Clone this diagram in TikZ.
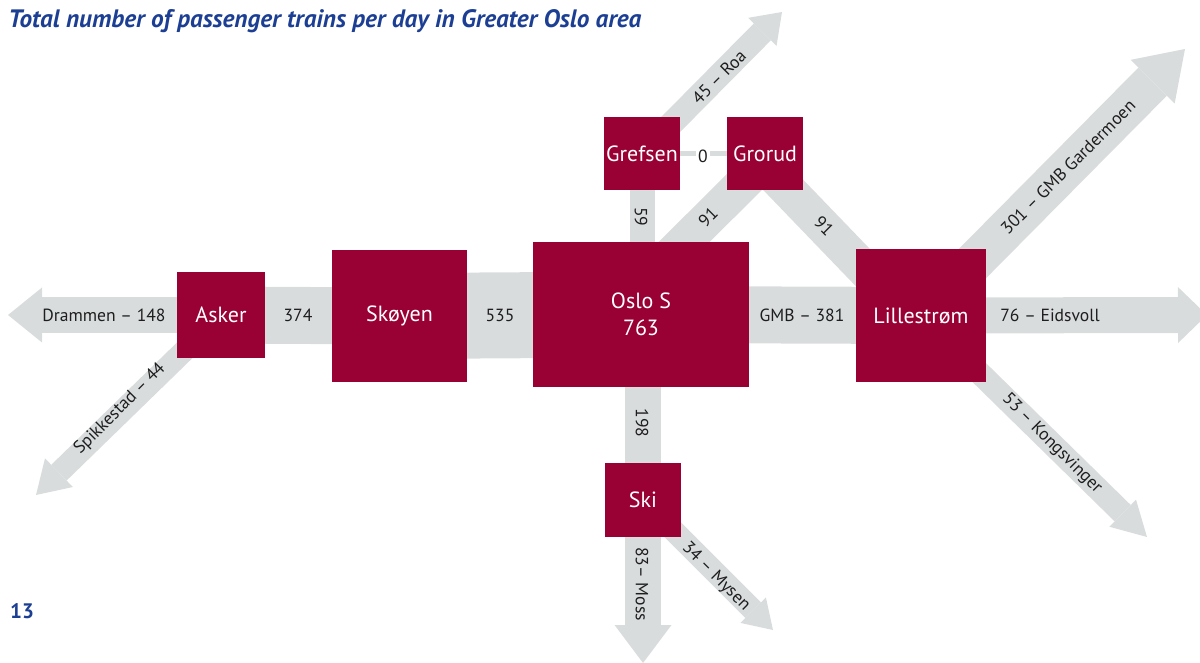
\documentclass[tikz,border=0pt]{standalone}
\usepackage{fontspec}
\setmainfont{PT Sans}
\usetikzlibrary{arrows.meta,backgrounds}
\definecolor{boxred}{RGB}{153,0,51}
\definecolor{bandgray}{RGB}{217,220,221}
\definecolor{titleblue}{RGB}{28,63,148}
\definecolor{labelblack}{RGB}{30,30,30}

\begin{document}
\begin{tikzpicture}[x=0.5pt,y=-0.5pt,
    station/.style={fill=boxred,text=white,inner sep=0pt,align=center,
      font=\fontsize{11}{13.5}\selectfont},
    band/.style={draw=bandgray},
    flow/.style={text=labelblack,inner sep=0pt,font=\fontsize{8.8}{10}\selectfont}]
  \useasboundingbox (0,0) rectangle (1200,663);

  % stations
  \node[station,minimum width=44pt,minimum height=43pt] (asker) at (221,315) {Asker};
  \node[station,minimum width=67.5pt,minimum height=66pt] (skoyen) at (399.5,316) {Skøyen};
  \node[station,minimum width=108pt,minimum height=72.5pt] (oslo) at (641,314.5) {Oslo S\\763};
  \node[station,minimum width=65pt,minimum height=66.5pt] (lillestrom) at (921,315.5) {Lillestrøm};
  \node[station,minimum width=38pt,minimum height=36.5pt] (grefsen) at (642,153.5) {Grefsen};
  \node[station,minimum width=38pt,minimum height=36.5pt] (grorud) at (765,153.5) {Grorud};
  \node[station,minimum width=38pt,minimum height=37pt] (ski) at (643,500) {Ski};

  % free ends
  \coordinate (drammen) at (8,315);
  \coordinate (eidsvoll) at (1207,315);
  \coordinate (roa) at (782,12);
  \coordinate (gardermoen) at (1185,49);
  \coordinate (kongsvinger) at (1147,537);
  \coordinate (spikkestad) at (36,495);
  \coordinate (moss) at (643,663);
  \coordinate (mysen) at (773,630);
  \coordinate (osloin) at (650,276);

  % bands
  \begin{scope}[on background layer]
    \draw[band,line width=28.5pt] (asker.center) -- (skoyen.center);
    \draw[band,line width=43pt] (skoyen.center) -- (oslo.center);
    \draw[band,line width=28.5pt] (oslo.center) -- (lillestrom.center);
    \draw[band,line width=18pt] (ski.center |- oslo.center) -- (ski.center);
    \draw[band,line width=12.5pt] (grefsen.center) -- (grefsen.center |- oslo.center);
    \draw[band,line width=2.5pt] (grefsen.center) -- (grorud.center);
    \draw[band,line width=18pt] ([xshift=4pt]grorud.center) -- (osloin);
    \draw[band,line width=18pt] ([xshift=-6pt]grorud.center) -- ([xshift=-6pt]lillestrom.center);
    \draw[band,line width=18pt,-{Triangle[width=27.5pt,length=17pt,line width=0pt]}] (asker.center) -- (drammen);
    \draw[band,line width=11pt,-{Triangle[width=20pt,length=16pt,line width=0pt]}] (asker.center) -- (spikkestad);
    \draw[band,line width=18pt,-{Triangle[width=28pt,length=14.5pt,line width=0pt]}] (lillestrom.center) -- (eidsvoll);
    \draw[band,line width=20pt,-{Triangle[width=31pt,length=23pt,line width=0pt]}] (lillestrom.center) -- (gardermoen);
    \draw[band,line width=11.5pt,-{Triangle[width=19pt,length=17pt,line width=0pt]}] (lillestrom.center) -- (kongsvinger);
    \draw[band,line width=12pt,-{Triangle[width=20pt,length=14pt,line width=0pt]}] (grefsen.center) -- (roa);
    \draw[band,line width=18pt,-{Triangle[width=28.5pt,length=19pt,line width=0pt]}] (ski.center) -- (moss);
    \draw[band,line width=11pt,-{Triangle[width=18pt,length=14pt,line width=0pt]}] (ski.center) -- (mysen);
  \end{scope}

  % flow labels
  \node[flow] (drammenlbl) at (104,315) {Drammen – 148};
  \node[flow] (askerlbl) at (298,315) {374};
  \node[flow] (skoyenlbl) at (500,315) {535};
  \node[flow] (gmblbl) at (802,315) {GMB – 381};
  \node[flow] (eidsvolllbl) at (1050,315) {76 – Eidsvoll};
  \node[flow,rotate=45] (roalbl) at (719,77) {45 – Roa};
  \node[flow,fill=white,inner sep=1pt] (zerolbl) at (703,156) {0};
  \node[flow,rotate=-90] (grefsenlbl) at (641,217) {59};
  \node[flow,rotate=45] (grorudosllbl) at (708,217) {91};
  \node[flow,rotate=-45] (grorudlillbl) at (824,226) {91};
  \node[flow,rotate=45] (gardermoenlbl) at (1068,167) {301 – GMB Gardermoen};
  \node[flow,rotate=-45] (kongsvingerlbl) at (1052,444) {53 – Kongsvinger};
  \node[flow,rotate=45] (spikkestadlbl) at (120,409) {Spikkestad – 44};
  \node[flow,rotate=-90] (skilbl) at (642,423) {198};
  \node[flow,rotate=-90] (mosslbl) at (642,584) {83– Moss};
  \node[flow,rotate=-45] (mysenlbl) at (716,577) {34 – Mysen};

  % title and page number
  \node[anchor=west,inner sep=0pt,text=titleblue,
    font=\fontsize{12.6}{14}\selectfont\bfseries\itshape] (title) at (8,21)
    {Total number of passenger trains per day in Greater Oslo area};
  \node[inner sep=0pt,text=titleblue,font=\fontsize{10.5}{12}\selectfont\bfseries] (pageno) at (22,611) {13};
\end{tikzpicture}
\end{document}
